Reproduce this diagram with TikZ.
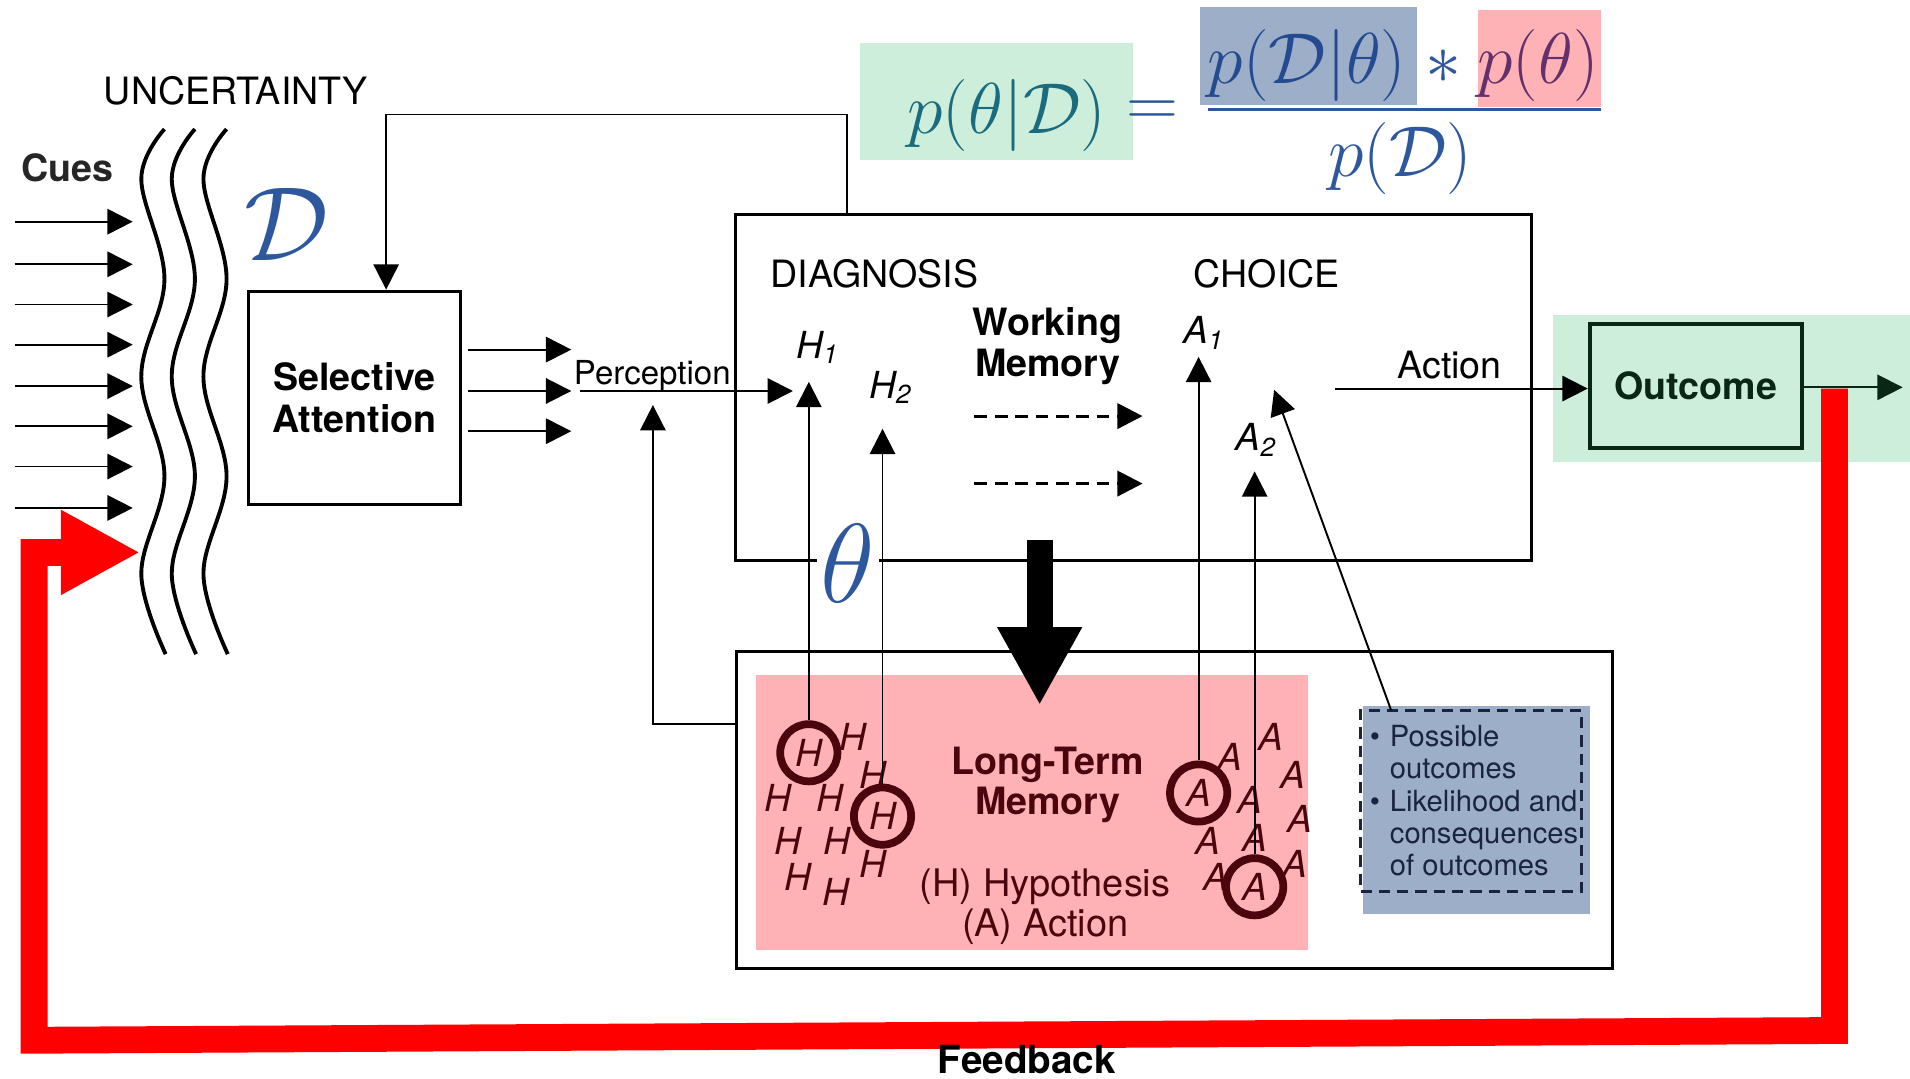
\RequirePackage{fix-cm}
\documentclass[tikz,border=0pt]{standalone}
\usepackage[no-math]{fontspec}
\setmainfont{TeX Gyre Heros}
\usetikzlibrary{arrows.meta}

\newlength{\du}
\setlength{\du}{1.218mm}

\definecolor{formblue}{rgb}{0.180000, 0.345000, 0.620000}
\definecolor{formteal}{rgb}{0.100000, 0.420000, 0.490000}
\definecolor{formnavy}{rgb}{0.140000, 0.290000, 0.570000}
\definecolor{formplum}{rgb}{0.390000, 0.190000, 0.420000}
\definecolor{mintfill}{rgb}{0.800000, 0.933000, 0.855000}
\definecolor{slatefill}{rgb}{0.616000, 0.686000, 0.784000}
\definecolor{rosefill}{rgb}{1.000000, 0.698000, 0.710000}
\definecolor{maroon}{rgb}{0.290000, 0.020000, 0.050000}
\definecolor{navytext}{rgb}{0.100000, 0.140000, 0.250000}
\definecolor{darkgreen}{rgb}{0.040000, 0.150000, 0.080000}
\definecolor{fbred}{rgb}{1.000000, 0.000000, 0.000000}

\tikzset{
  arr/.style={-{Triangle[length=7.2pt,width=7.2pt]}, line width=0.55pt},
  wave/.style={line width=1.1pt},
  blockbox/.style={draw, line width=0.85pt, inner sep=0pt},
  lbl/.style={inner sep=0pt, font=\fontsize{10.7}{11.8}\selectfont},
  boldlbl/.style={inner sep=0pt, align=center, font=\fontsize{10.7}{11.8}\selectfont\bfseries},
  hyp/.style={inner sep=0pt, text=maroon, font=\fontsize{10.6}{11.8}\selectfont\itshape},
  memring/.style={circle, draw=maroon, fill=rosefill, line width=2.2pt, minimum size=4.7\du, inner sep=0pt, text=maroon, font=\fontsize{10.6}{11.8}\selectfont\itshape},
  formula/.style={inner sep=0pt, font=\fontsize{20.5}{24}\selectfont},
  fbarrow/.style={draw=fbred, line width=2.2\du, line join=miter, -{Triangle[length=22.5pt,width=22.5pt]}}
}

\begin{document}
\begin{tikzpicture}
\pgftransformxscale{1.000000}
\pgftransformyscale{-1.000000}
\useasboundingbox (0.000000\du,0.000000\du) rectangle (156.800000\du,88.500000\du);
% bayes rule
\fill[mintfill] (70.600000\du,3.500000\du) rectangle (93.000000\du,13.150000\du);
\fill[slatefill] (98.500000\du,0.550000\du) rectangle (116.300000\du,8.600000\du);
\fill[rosefill] (121.300000\du,0.800000\du) rectangle (131.400000\du,8.800000\du);
\node[formula, text=formteal] (post) at (82.650000\du,9.500000\du) {$p(\theta|\mathcal{D})$};
\node[formula, text=formblue] (eqsign) at (94.600000\du,9.350000\du) {$=$};
\node[formula, text=formnavy] (lik) at (107.300000\du,5.400000\du) {$p(\mathcal{D}|\theta)$};
\node[formula, text=formblue] (times) at (118.500000\du,5.470000\du) {$\ast$};
\node[formula, text=formplum] (prior) at (126.250000\du,5.400000\du) {$p(\theta)$};
\coordinate (barl) at (99.200000\du,9.000000\du);
\coordinate (barr) at (131.400000\du,9.000000\du);
\draw[formblue, line width=0.9pt] (barl) -- (barr);
\node[formula, text=formblue] (evid) at (114.950000\du,13.050000\du) {$p(\mathcal{D})$};
\fill[mintfill] (127.500000\du,25.900000\du) rectangle (156.800000\du,37.900000\du);
% cues and uncertainty
\node[lbl, anchor=base] (uncert) at (19.350000\du,8.600000\du) {UNCERTAINTY};
\node[boldlbl, anchor=base, text=black!85] (cues) at (5.550000\du,14.900000\du) {Cues};
\foreach \y [count=\i] in {18.2,21.7,25.0,28.3,31.7,35.0,38.3,41.7}{
  \coordinate (cuea\i) at (1.200000\du,\y\du);
  \coordinate (cueb\i) at (10.900000\du,\y\du);
  \draw[arr] (cuea\i) -- (cueb\i);
}
\foreach \dx in {0,2.5,5.1}{
\begin{scope}[xshift=\dx\du]
\draw[wave] plot[smooth, tension=0.6] coordinates {(13.500000\du,10.600000\du) (11.600000\du,14.700000\du) (13.500000\du,22.900000\du) (11.600000\du,30.900000\du) (13.500000\du,39.100000\du) (11.600000\du,47.100000\du) (13.600000\du,53.700000\du)};
\end{scope}
}
\node[formula, text=formblue, font=\fontsize{30}{30}\selectfont] (dcal) at (23.500000\du,18.400000\du) {$\mathcal{D}$};
% attention and perception
\node[blockbox, boldlbl, minimum width=17.400000\du, minimum height=17.500000\du] (selatt) at (29.100000\du,32.650000\du) {Selective\\Attention};
\foreach \y [count=\i] in {28.7,32.1,35.4}{
  \coordinate (sela\i) at (38.400000\du,\y\du);
  \coordinate (selb\i) at (46.900000\du,\y\du);
  \draw[arr] (sela\i) -- (selb\i);
}
\node[lbl, anchor=base, font=\fontsize{9.4}{11}\selectfont] (percept) at (53.550000\du,31.600000\du) {Perception};
\coordinate (pstart) at (47.600000\du,32.100000\du);
\coordinate (pend) at (65.100000\du,32.100000\du);
\draw[arr] (pstart) -- (pend);
% working memory
\node[blockbox, minimum width=65.300000\du, minimum height=28.400000\du] (diagbox) at (93.050000\du,31.800000\du) {};
\coordinate (loopa) at (69.500000\du,9.400000\du);
\coordinate (loopb) at (31.700000\du,9.400000\du);
\draw[arr] (diagbox.north -| loopa) -- (loopa) -- (loopb) -- (selatt.north -| loopb);
\node[lbl, anchor=base] (diagnosis) at (71.800000\du,23.600000\du) {DIAGNOSIS};
\node[lbl, anchor=base] (choice) at (104.000000\du,23.600000\du) {CHOICE};
\node[boldlbl] (wm) at (86.000000\du,28.400000\du) {Working\\Memory};
\node[lbl, anchor=base west, font=\fontsize{10.6}{11.8}\selectfont\itshape] (h1) at (65.300000\du,29.400000\du) {H\textsubscript{1}};
\node[lbl, anchor=base west, font=\fontsize{10.6}{11.8}\selectfont\itshape] (h2) at (71.300000\du,32.700000\du) {H\textsubscript{2}};
\node[lbl, anchor=base west, font=\fontsize{10.6}{11.8}\selectfont\itshape] (a1) at (97.100000\du,28.200000\du) {A\textsubscript{1}};
\node[lbl, anchor=base west, font=\fontsize{10.6}{11.8}\selectfont\itshape] (a2) at (101.400000\du,37.000000\du) {A\textsubscript{2}};
\foreach \y [count=\i] in {34.16,39.7}{
  \coordinate (wma\i) at (80.000000\du,\y\du);
  \coordinate (wmb\i) at (93.800000\du,\y\du);
  \draw[arr, line width=0.9pt, dash pattern=on 3.6pt off 2.2pt] (wma\i) -- (wmb\i);
}
\node[lbl, anchor=base] (action) at (119.000000\du,31.100000\du) {Action};
% long-term memory
\fill[rosefill] (62.100000\du,55.400000\du) rectangle (107.400000\du,78.000000\du);
\node[blockbox, minimum width=71.900000\du, minimum height=26.000000\du] (ltmbox) at (96.450000\du,66.500000\du) {};
\node[boldlbl, text=maroon, font=\fontsize{10.7}{11.4}\selectfont\bfseries] (ltm) at (86.000000\du,64.400000\du) {Long-Term\\Memory};
\node[lbl, align=center, text=maroon, font=\fontsize{10.8}{11.4}\selectfont] (legend) at (85.800000\du,74.450000\du) {(H) Hypothesis\\(A) Action};
\foreach \x/\y [count=\i] in {70.0/60.5, 71.7/63.6, 63.9/65.5, 68.1/65.5, 64.7/69.0, 68.7/69.0, 71.7/70.9, 65.5/72.0, 68.6/73.2}{
  \node[hyp] (hs\i) at (\x\du,\y\du) {H};
}
\foreach \x/\y [count=\i] in {104.3/60.5, 101.0/62.1, 106.1/63.6, 102.6/65.7, 106.7/67.2, 99.2/69.0, 103.0/68.8, 106.3/70.9, 99.8/72.0}{
  \node[hyp] (as\i) at (\x\du,\y\du) {A};
}
\node[memring] (hc1) at (66.400000\du,61.800000\du) {H};
\node[memring] (hc2) at (72.450000\du,67.000000\du) {H};
\node[memring] (ac1) at (98.400000\du,65.100000\du) {A};
\node[memring] (ac2) at (103.000000\du,72.800000\du) {A};
\coordinate (h1tip) at (66.400000\du,31.350000\du);
\coordinate (h2tip) at (72.450000\du,35.200000\du);
\coordinate (a1tip) at (98.400000\du,29.300000\du);
\coordinate (a2tip) at (103.000000\du,38.700000\du);
\draw[arr] (hc1) -- (h1tip);
\draw[arr] (hc2) -- (h2tip);
\draw[arr] (ac1) -- (a1tip);
\draw[arr] (ac2) -- (a2tip);
\coordinate (fbcorner) at (53.600000\du,59.400000\du);
\coordinate (ptip) at (53.600000\du,33.250000\du);
\draw[arr] (ltmbox.west |- fbcorner) -- (fbcorner) -- (ptip);
% outcomes note
\fill[slatefill] (111.900000\du,58.000000\du) rectangle (130.500000\du,75.000000\du);
\node[draw=navytext, dash pattern=on 3.2pt off 2pt, line width=0.8pt, minimum width=18.100000\du, minimum height=14.900000\du, inner sep=0pt] (possbox) at (120.750000\du,65.750000\du) {};
\node[anchor=north west, align=left, inner sep=0pt, text=navytext, font=\fontsize{8.3}{9.2}\selectfont] (posstext) at (112.400000\du,59.480000\du) {\textbullet\hspace{2.8pt}Possible\\\hphantom{\textbullet\hspace{2.8pt}}outcomes\\\textbullet\hspace{2.8pt}Likelihood and\\\hphantom{\textbullet\hspace{2.8pt}}consequences\\\hphantom{\textbullet\hspace{2.8pt}}of outcomes};
\coordinate (slfoot) at (114.200000\du,58.300000\du);
\coordinate (sltip) at (104.600000\du,32.000000\du);
\draw[arr] (slfoot) -- (sltip);
% theta and retrieval
\node[formula, fill=white, inner xsep=1pt, text=formblue, font=\fontsize{32}{32}\selectfont] (theta) at (69.600000\du,46.250000\du) {$\theta$};
\coordinate (wmtop) at (85.350000\du,44.300000\du);
\coordinate (wmtip) at (85.350000\du,57.900000\du);
\draw[line width=2.150000\du, -{Triangle[length=22.2pt,width=22.5pt]}] (wmtop) -- (wmtip);
% outcome
\node[blockbox, boldlbl, draw=darkgreen, text=darkgreen, line width=1.1pt, minimum width=17.400000\du, minimum height=10.200000\du] (outcome) at (139.200000\du,31.700000\du) {Outcome};
\coordinate (actstart) at (109.600000\du,31.900000\du);
\draw[arr] (actstart) -- (actstart -| outcome.west);
\coordinate (outend) at (156.200000\du,31.800000\du);
\draw[arr, darkgreen] (outend -| outcome.east) -- (outend);
% feedback
\coordinate (fbtop) at (150.600000\du,31.900000\du);
\coordinate (fbbr) at (150.600000\du,84.600000\du);
\coordinate (fbbl) at (2.800000\du,85.400000\du);
\coordinate (fbtl) at (2.800000\du,45.350000\du);
\coordinate (fbtip) at (11.500000\du,45.350000\du);
\draw[fbarrow] (fbtop) -- (fbbr) -- (fbbl) -- (fbtl) -- (fbtip);
\node[boldlbl, anchor=base, font=\fontsize{11}{12}\selectfont\bfseries] (feedback) at (84.300000\du,88.150000\du) {Feedback};
\end{tikzpicture}
\end{document}
